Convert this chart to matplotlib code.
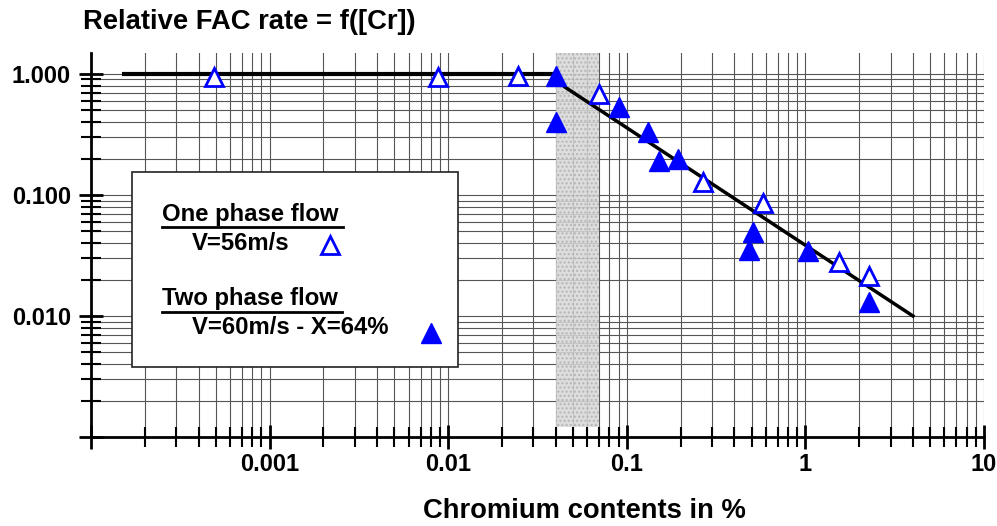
import matplotlib
matplotlib.use("Agg")
import matplotlib.pyplot as plt
from matplotlib.patches import Rectangle
from matplotlib.ticker import FixedLocator, LogLocator, NullFormatter
import numpy as np

plt.rcParams['font.family'] = ['Liberation Sans', 'DejaVu Sans']
plt.rcParams['font.weight'] = 'bold'

# ---- data ----
one_phase_x = [0.00049, 0.0088, 0.0247, 0.0697, 0.267, 0.578, 1.55, 2.28]
one_phase_y = [0.95, 0.95, 0.97, 0.68, 0.128, 0.086, 0.028, 0.0214]

two_phase_x = [0.040, 0.040, 0.091, 0.131, 0.151, 0.193, 0.508, 0.483, 1.03, 2.28]
two_phase_y = [0.97, 0.40, 0.53, 0.33, 0.19, 0.20, 0.049, 0.035, 0.0345, 0.013]

flat_x = [1.5e-4, 0.042]
flat_y = [1.0, 1.0]
fit_x = [0.045, 4.0]
fit_y = [0.78, 0.010]

band_x = [0.04, 0.07]

x_ticks = [1e-4, 1e-3, 1e-2, 1e-1, 1, 10]
x_labels = ['', '0.001', '0.01', '0.1', '1', '10']
y_ticks = [0.001, 0.01, 0.1, 1.0]
y_labels = ['', '0.010', '0.100', '1.000']

title = "Relative FAC rate = f([Cr])"
xlabel = "Chromium contents in %"
leg1_head, leg1_sub = "One phase flow", "V=56m/s"
leg2_head, leg2_sub = "Two phase flow", "V=60m/s - X=64%"

BLUE = '#0000ff'
W, H = 997, 526

fig = plt.figure(figsize=(W / 100, H / 100), dpi=100)
ax = fig.add_axes([91 / W, 1 - 437 / H, (984 - 91) / W, (437 - 53) / H])
ax.set_xscale('log')
ax.set_yscale('log')
ax.set_xlim(1e-4, 10)
ax.set_ylim(0.001, 1.49)

ax.xaxis.set_major_locator(FixedLocator(x_ticks))
ax.set_xticklabels(x_labels)
ax.yaxis.set_major_locator(FixedLocator(y_ticks))
ax.set_yticklabels(y_labels)
ax.xaxis.set_minor_locator(LogLocator(base=10, subs=np.arange(2, 10)))
ax.yaxis.set_minor_locator(LogLocator(base=10, subs=np.arange(2, 10)))
ax.xaxis.set_minor_formatter(NullFormatter())
ax.yaxis.set_minor_formatter(NullFormatter())

ax.grid(True, which='both', color='#555555', lw=0.8, zorder=0)
ax.set_axisbelow(True)

for s in ['top', 'right']:
    ax.spines[s].set_visible(False)
for s in ['left', 'bottom']:
    ax.spines[s].set_linewidth(2)
    ax.spines[s].set_color('black')

ax.tick_params(which='major', direction='inout', length=17, width=2, labelsize=17, pad=3)
ax.tick_params(axis='y', which='major', pad=6)
ax.tick_params(which='minor', direction='inout', length=15, width=1.5)

ax.axvspan(band_x[0], band_x[1], ymin=0.026, ymax=1.0, facecolor='#d8d8d8',
           edgecolor='#b0b0b0', hatch='....', lw=0, alpha=0.85, zorder=1)

ax.plot(flat_x, flat_y, color='black', lw=3, zorder=3, solid_capstyle='butt')
ax.plot(fit_x, fit_y, color='black', lw=2.5, zorder=3)

ax.plot(one_phase_x, one_phase_y, linestyle='none', marker='^', markersize=13,
        markerfacecolor='white', markeredgecolor=BLUE, markeredgewidth=2, zorder=4)
ax.plot(two_phase_x, two_phase_y, linestyle='none', marker='^', markersize=14,
        markerfacecolor=BLUE, markeredgecolor=BLUE, markeredgewidth=1, zorder=5)

# title and x label
fig.text(83 / W, 1 - 22 / H, title, fontsize=19.7, fontweight='bold', ha='left', va='center')
fig.text(584 / W, 1 - 511 / H, xlabel, fontsize=19.7, fontweight='bold', ha='center', va='center')

# legend box
rect = Rectangle((132 / W, 1 - 367 / H), (458 - 132) / W, (367 - 172) / H,
                 transform=fig.transFigure, facecolor='white', edgecolor='#222222',
                 lw=1.2, zorder=10)
fig.patches.append(rect)

LF = 17.2
t1 = fig.text(162 / W, 1 - 215 / H, leg1_head, fontsize=LF, fontweight='bold',
              ha='left', va='center', zorder=11)
fig.text(192 / W, 1 - 243 / H, leg1_sub, fontsize=LF, fontweight='bold',
         ha='left', va='center', zorder=11)
t2 = fig.text(162 / W, 1 - 298 / H, leg2_head, fontsize=LF, fontweight='bold',
              ha='left', va='center', zorder=11)
fig.text(192 / W, 1 - 328 / H, leg2_sub, fontsize=LF, fontweight='bold',
         ha='left', va='center', zorder=11)

fig.lines.append(plt.Line2D([330 / W], [1 - 245 / H], transform=fig.transFigure,
                            marker='^', markersize=13, markerfacecolor='white',
                            markeredgecolor=BLUE, markeredgewidth=2, linestyle='none', zorder=12))
fig.lines.append(plt.Line2D([431 / W], [1 - 333 / H], transform=fig.transFigure,
                            marker='^', markersize=14, markerfacecolor=BLUE,
                            markeredgecolor=BLUE, linestyle='none', zorder=12))

# underlines
fig.canvas.draw()
r = fig.canvas.get_renderer()
for t, yy in [(t1, 227), (t2, 312)]:
    bb = t.get_window_extent(r)
    x0 = bb.x0 / W
    x1 = (bb.x1 + 4) / W
    fig.lines.append(plt.Line2D([x0, x1], [1 - yy / H, 1 - yy / H], transform=fig.transFigure,
                                color='black', lw=2, zorder=12))

fig.savefig('out.png', dpi=100)
